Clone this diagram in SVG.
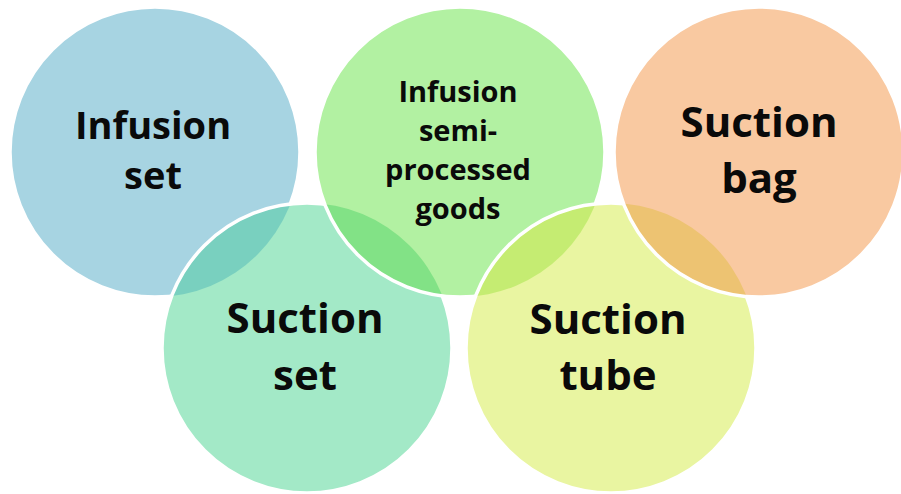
<svg xmlns="http://www.w3.org/2000/svg" width="901" height="494" viewBox="0 0 901 494">
<style>
.ring{stroke:#fff;stroke-width:3.5}
.lbl{font-family:"Open Sans","Liberation Sans",sans-serif;font-weight:700;fill:#0a0a0a;text-anchor:middle}
.big{font-size:42px}
.mid{font-size:38px}
.sm{font-size:29px}
</style>
<defs>
<clipPath id="cBlue"><circle cx="155" cy="152" r="145"/></clipPath>
<clipPath id="cTeal"><circle cx="307" cy="348" r="145"/></clipPath>
<clipPath id="cGreen"><circle cx="460" cy="152" r="145"/></clipPath>
<clipPath id="cYellow"><circle cx="611" cy="348" r="145"/></clipPath>
</defs>
<rect width="901" height="494" fill="#fff"/>
<g id="node-infusion-set">
<circle class="ring" cx="155" cy="152" r="145" fill="#a7d4e2"/>
</g>
<g id="node-suction-set">
<circle cx="307" cy="348" r="145" fill="#a3e9c7"/>
<circle cx="307" cy="348" r="145" fill="#79d0bf" clip-path="url(#cBlue)"/>
<circle class="ring" cx="307" cy="348" r="145" fill="none"/>
</g>
<g id="node-infusion-semi">
<circle cx="460" cy="152" r="145" fill="#b2f1a2"/>
<circle cx="460" cy="152" r="145" fill="#82e286" clip-path="url(#cTeal)"/>
<circle class="ring" cx="460" cy="152" r="145" fill="none"/>
</g>
<g id="node-suction-tube">
<circle cx="611" cy="348" r="145" fill="#e9f5a1"/>
<circle cx="611" cy="348" r="145" fill="#c5ec72" clip-path="url(#cGreen)"/>
<circle class="ring" cx="611" cy="348" r="145" fill="none"/>
</g>
<g id="node-suction-bag">
<circle cx="759" cy="152" r="145" fill="#f9c9a1"/>
<circle cx="759" cy="152" r="145" fill="#edc372" clip-path="url(#cYellow)"/>
<circle class="ring" cx="759" cy="152" r="145" fill="none"/>
</g>
<g id="labels">
<text class="lbl mid" x="153" y="139">Infusion</text>
<text class="lbl mid" x="153" y="189">set</text>
<text class="lbl sm" x="458" y="102">Infusion</text>
<text class="lbl sm" x="458" y="141">semi-</text>
<text class="lbl sm" x="458" y="180">processed</text>
<text class="lbl sm" x="458" y="219">goods</text>
<text class="lbl big" x="759" y="137">Suction</text>
<text class="lbl big" x="759" y="193">bag</text>
<text class="lbl big" x="305" y="333">Suction</text>
<text class="lbl big" x="305" y="390">set</text>
<text class="lbl big" x="608" y="334">Suction</text>
<text class="lbl big" x="608" y="390">tube</text>
</g>
</svg>
